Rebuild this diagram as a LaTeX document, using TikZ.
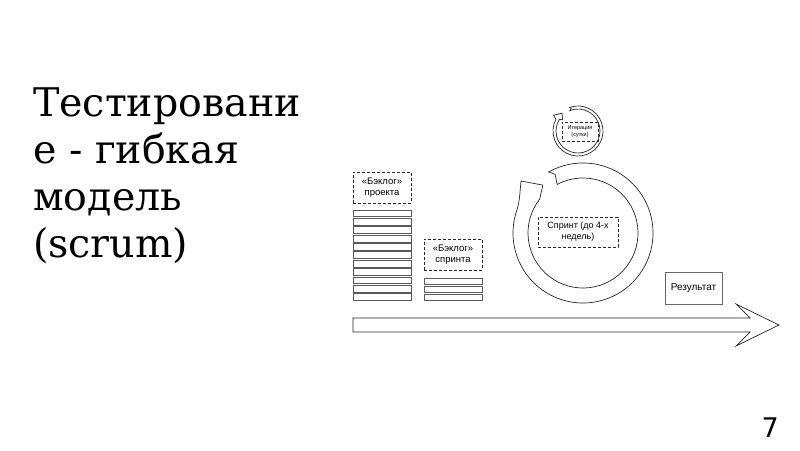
\documentclass[tikz,border=0pt]{standalone}
\usepackage{fontspec}
\setmainfont{DejaVu Serif}
\newfontfamily\arialf{Liberation Sans}
\newfontfamily\dvsans{DejaVu Sans}
\begin{document}
\begin{tikzpicture}[x=1pt,y=-1pt, line join=miter,
  ln/.style={draw=black!85, line width=0.7pt},
  dbox/.style={draw=black!85, dash pattern=on 3pt off 2pt, line width=0.7pt, inner sep=0pt, align=center, font=\arialf\fontsize{9.5}{11}\selectfont},
  rowbox/.style={draw=black!65, line width=0.7pt},
  ttl/.style={anchor=base west, inner sep=0pt, font=\fontsize{39.5}{47}\selectfont}]
\useasboundingbox[fill=white] (0,0) rectangle (800,450);
% title
\node[ttl] (t1) at (33,116) {Тестировани};
\node[ttl] (t2) at (33,163) {е - гибкая};
\node[ttl] (t3) at (33,210) {модель};
\node[ttl] (t4) at (33,257) {(scrum)};
% backlogs
\node[dbox, minimum width=58pt, minimum height=31pt] (bp) at (382,187.5) {«Бэклог»\\проекта};
\foreach \i in {0,...,10} \draw[rowbox] (353,{210+\i*8.36}) rectangle ++(58,6.8);
\node[dbox, minimum width=58pt, minimum height=31pt] (bs) at (453,254.5) {«Бэклог»\\спринта};
\foreach \i in {0,...,2} \draw[rowbox] (424,{278+\i*8}) rectangle ++(58,6.6);
% big ring arrow
\begin{scope}[shift={(583,233)}]
\draw[ln] (240.6:70) arc[start angle=240.6, end angle=560, radius=70] .. controls (-63.3,-32) and (-63,-42) .. (-62,-52) -- (230:62.5) -- (218:55)
  arc[start angle=218, end angle=-118, radius=55] -- (244.6:65) -- cycle;
\end{scope}
\node[dbox, font=\arialf\fontsize{9}{11}\selectfont, minimum width=80pt, minimum height=30pt] (sp) at (578,232) {Спринт (до 4-х\\недель)};
% small ring arrow
\begin{scope}[shift={(578,131)}]
\draw[ln] (251:25) arc[start angle=251, end angle=568, radius=25] -- (213:29) -- (228:24) -- (216:19) -- (212:22)
  arc[start angle=212, end angle=-112, radius=22] -- (253:23.5) -- cycle;
\end{scope}
\node[dbox, font=\arialf\fontsize{5.5}{6.5}\selectfont, minimum width=36pt, minimum height=19pt] (it) at (580,131.5) {Итерация\\(сутки)};
% result
\node[draw=black!60, line width=0.7pt, inner sep=0pt, minimum width=57pt, minimum height=32pt, font=\arialf\fontsize{10}{11}\selectfont] (res) at (693.5,288) {Результат};
% time arrow
\draw[ln] (353,318) -- (750,318) -- (736,304) -- (779,325) -- (736,346) -- (750,332) -- (353,332) -- cycle;
% page number
\node[anchor=base east, inner sep=0pt, font=\dvsans\fontsize{27}{30}\selectfont] (pn) at (779,437) {7};
\end{tikzpicture}
\end{document}
